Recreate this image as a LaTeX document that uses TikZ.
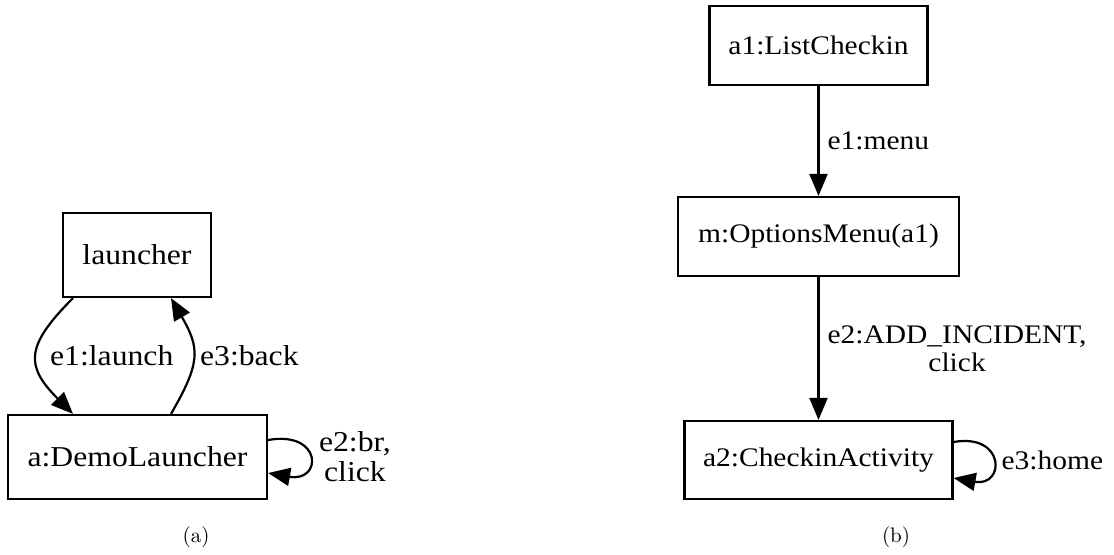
\documentclass[tikz,border=0pt]{standalone}
\usepackage{fontspec}
\newfontfamily\dotfont{Liberation Serif}[FakeStretch=1.1]
\usetikzlibrary{arrows.meta}

\begin{document}
\begin{tikzpicture}[x=0.5pt,y=0.5pt,>={Triangle[length=11pt,width=9pt]},line width=1.1pt,
	box/.style={draw,rectangle,inner sep=0pt,font=\dotfont\fontsize{14.4}{15}\selectfont},
	boxb/.style={box,font=\dotfont\fontsize{13.4}{14}\selectfont},
	lbl/.style={inner sep=0pt,align=center,font=\dotfont\fontsize{14.4}{15}\selectfont},
	lblb/.style={lbl,font=\dotfont\fontsize{13.4}{14}\selectfont},
	subcap/.style={inner sep=0pt,font=\fontsize{10.5}{12}\selectfont}]
	\useasboundingbox (0,0) rectangle (1114,554);
	% (a)
	\node[box,minimum width=74pt,minimum height=42pt] (launcher) at (137,299) {launcher};
	\node[box,minimum width=129.5pt,minimum height=42pt] (demo) at (137.5,97) {a:DemoLauncher};
	\draw[->] ([xshift=-32pt]launcher.south) to[out=225,in=135,looseness=1.5] node[lbl,right=6pt]{e1:launch} ([xshift=-32.25pt]demo.north);
	\draw[->] ([xshift=16.75pt]demo.north) to[out=60,in=-60,looseness=1.3] node[lbl,right=3pt]{e3:back} ([xshift=17pt]launcher.south);
	\draw[->] ([yshift=8.5pt]demo.east) to[out=10,in=-10,looseness=4.3] node[lbl,right=4.5pt]{e2:br,\\click} ([yshift=-8pt]demo.east);
	\node[subcap] (capa) at (196,17) {(a)};
	% (b)
	\node[boxb,minimum width=109pt,minimum height=39.5pt] (list) at (818.5,508.5) {a1:ListCheckin};
	\node[boxb,minimum width=140.5pt,minimum height=39.5pt] (menu) at (818.5,317.5) {m:OptionsMenu(a1)};
	\node[boxb,minimum width=134pt,minimum height=39pt] (checkin) at (818.5,94) {a2:CheckinActivity};
	\draw[->] (list) -- node[lblb,right=4pt]{e1:menu} (menu);
	\draw[->] (menu) -- node[lblb,right=4pt]{e2:ADD\_INCIDENT,\\click} (checkin);
	\draw[->] ([yshift=9pt]checkin.east) to[out=10,in=-10,looseness=3.75] node[lblb,right=4pt]{e3:home} ([yshift=-9pt]checkin.east);
	\node[subcap] (capb) at (896,17) {(b)};
\end{tikzpicture}
\end{document}
